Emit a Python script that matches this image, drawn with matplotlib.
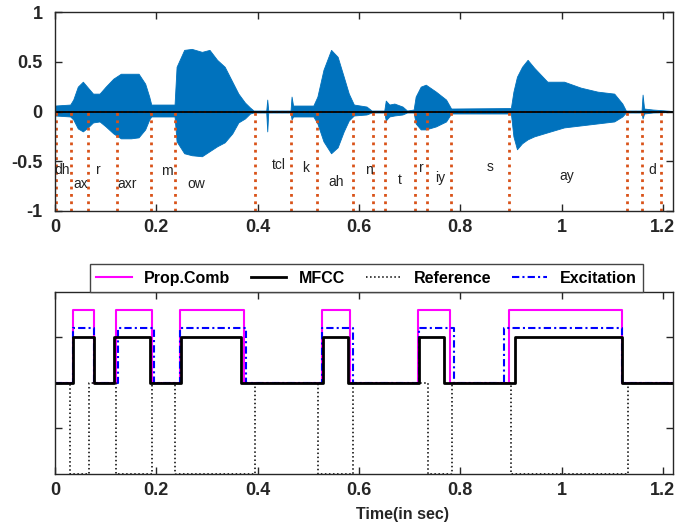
"""
Speech segment: waveform with phone boundaries + detected voiced regions
"""

import numpy as np
import matplotlib
matplotlib.use("Agg")
import matplotlib.pyplot as plt

plt.rcParams['font.family'] = ['Liberation Sans', 'DejaVu Sans']

# -----------------------------
# Waveform envelope
# -----------------------------
t_env = [0.000, 0.030, 0.036, 0.045, 0.055, 0.065, 0.075, 0.088, 0.100, 0.115,
         0.130, 0.150, 0.165, 0.178, 0.186, 0.190, 0.236, 0.240, 0.255, 0.270,
         0.290, 0.305, 0.320, 0.335, 0.350, 0.362, 0.375, 0.385, 0.392, 0.417,
         0.419, 0.421, 0.465, 0.467, 0.470, 0.510, 0.518, 0.530, 0.545, 0.558,
         0.570, 0.580, 0.590, 0.615, 0.625, 0.650, 0.653, 0.660, 0.670, 0.686,
         0.695, 0.708, 0.712, 0.722, 0.732, 0.752, 0.772, 0.782, 0.900, 0.905,
         0.912, 0.922, 0.933, 0.946, 0.972, 1.005, 1.038, 1.071, 1.104, 1.120,
         1.127, 1.158, 1.160, 1.163, 1.180, 1.220]
env_up = [0.06, 0.07, 0.12, 0.25, 0.30, 0.24, 0.18, 0.18, 0.25, 0.33,
          0.38, 0.38, 0.38, 0.28, 0.15, 0.07, 0.07, 0.45, 0.62, 0.63,
          0.60, 0.62, 0.52, 0.45, 0.30, 0.18, 0.09, 0.04, 0.01, 0.01,
          0.12, 0.01, 0.01, 0.15, 0.06, 0.06, 0.15, 0.42, 0.62, 0.55,
          0.35, 0.18, 0.07, 0.05, 0.01, 0.01, 0.11, 0.07, 0.08, 0.05,
          0.01, 0.02, 0.15, 0.25, 0.27, 0.20, 0.12, 0.03, 0.035, 0.20,
          0.35, 0.45, 0.52, 0.44, 0.30, 0.30, 0.24, 0.20, 0.18, 0.08,
          0.01, 0.01, 0.17, 0.03, 0.02, 0.005]
env_lo = [-0.04, -0.05, -0.08, -0.17, -0.20, -0.16, -0.11, -0.10, -0.15, -0.22,
          -0.27, -0.27, -0.26, -0.18, -0.08, -0.05, -0.05, -0.30, -0.42, -0.44,
          -0.45, -0.40, -0.35, -0.31, -0.22, -0.11, -0.07, -0.02, -0.01, -0.01,
          -0.20, -0.01, -0.01, -0.08, -0.05, -0.05, -0.12, -0.30, -0.42, -0.36,
          -0.20, -0.09, -0.04, -0.03, -0.01, -0.01, -0.09, -0.05, -0.04, -0.03,
          -0.01, -0.01, -0.12, -0.18, -0.18, -0.15, -0.10, -0.02, -0.02, -0.25,
          -0.38, -0.32, -0.28, -0.25, -0.21, -0.16, -0.14, -0.12, -0.10, -0.05,
          -0.01, -0.01, -0.07, -0.02, -0.01, -0.005]

# phone boundaries and labels
bounds = [0.002, 0.031, 0.066, 0.1216, 0.189, 0.2365, 0.394, 0.465, 0.5176,
          0.588, 0.6286, 0.6516, 0.7113, 0.7343, 0.7816, 0.8966, 1.1285,
          1.158, 1.1954]
phones = ['dh', 'ax', 'r', 'axr', 'm', 'ow', 'tcl', 'k', 'ah', 'n', 't', 'r',
          'iy', 's', 'ay', 'd']
phone_x = [0.015, 0.051, 0.085, 0.143, 0.22, 0.279, 0.442, 0.494, 0.555,
           0.619, 0.68, 0.7225, 0.76, 0.858, 1.01, 1.18]
phone_y = [-0.59, -0.73, -0.59, -0.73, -0.60, -0.73, -0.54, -0.57, -0.71,
           -0.585, -0.69, -0.57, -0.67, -0.56, -0.65, -0.585]

# -----------------------------
# Detected regions (start, end)
# -----------------------------
prop_comb = [(0.0348, 0.0775), (0.1195, 0.1918), (0.2463, 0.373),
             (0.527, 0.583), (0.7166, 0.779), (0.897, 1.12)]
mfcc = [(0.036, 0.0775), (0.1163, 0.187), (0.248, 0.367),
        (0.529, 0.578), (0.719, 0.768), (0.908, 1.1186)]
reference = [(0.0296, 0.0663), (0.1209, 0.1905), (0.2365, 0.395),
             (0.519, 0.588), (0.737, 0.784), (0.900, 1.132)]
excitation = [(0.036, 0.0766), (0.1248, 0.1957), (0.2463, 0.3777),
              (0.527, 0.588), (0.718, 0.787), (0.887, 1.12)]

levels = {'Prop.Comb': 1.6, 'MFCC': 1.0, 'Reference': -2.0, 'Excitation': 1.2}
XMAX = 1.22


def step(intervals, level):
    xs, ys = [0.0], [0.0]
    for s, e in intervals:
        xs += [s, s, e, e]
        ys += [0, level, level, 0]
    xs.append(XMAX)
    ys.append(0)
    return xs, ys


fig = plt.figure(figsize=(6.75, 5.26), dpi=100)
ax1 = fig.add_axes([0.0815, 0.599, 0.9155, 0.378])
ax2 = fig.add_axes([0.0815, 0.099, 0.9155, 0.346])

# -----------------------------
# Top: waveform
# -----------------------------
ax1.fill_between(t_env, env_lo, env_up, color='#0072BD', lw=0.6)
ax1.axhline(0, color='#D95319', ls=':', lw=1.5)
ax1.vlines(bounds, -1, 0, colors='#D95319', linestyles=':', lw=2)
ax1.axhline(0, color='black', lw=1.3)
for name, px, py in zip(phones, phone_x, phone_y):
    ax1.text(px, py, name, ha='center', va='center', fontsize=10, color='#222222')
ax1.set_xlim(0, XMAX)
ax1.set_ylim(-1, 1)
ax1.set_yticks([-1, -0.5, 0, 0.5, 1])
ax1.set_yticklabels(['-1', '-0.5', '0', '0.5', '1'])
ax1.set_xticks([0, 0.2, 0.4, 0.6, 0.8, 1, 1.2])
ax1.set_xticklabels(['0', '0.2', '0.4', '0.6', '0.8', '1', '1.2'])

# -----------------------------
# Bottom: region detections
# -----------------------------
x, y = step(prop_comb, levels['Prop.Comb'])
h1, = ax2.plot(x, y, color='#FF00FF', lw=1.5, label='Prop.Comb')
x, y = step(excitation, levels['Excitation'])
h4, = ax2.plot(x, y, color='#0000FF', ls='-.', dashes=(3.5, 1.5, 1, 1.5),
               lw=1.5, label='Excitation')
x, y = step(reference, levels['Reference'])
h3, = ax2.plot(x, y, color='black', ls=':', lw=1.1, label='Reference')
x, y = step(mfcc, levels['MFCC'])
h2, = ax2.plot(x, y, color='black', lw=2, label='MFCC')
ax2.set_xlim(0, XMAX)
ax2.set_ylim(-2, 2)
ax2.set_yticks([-1, 0, 1])
ax2.set_yticklabels([])
ax2.set_xticks([0, 0.2, 0.4, 0.6, 0.8, 1, 1.2])
ax2.set_xticklabels(['0', '0.2', '0.4', '0.6', '0.8', '1', '1.2'])
ax2.set_xlabel('Time(in sec)', fontsize=11.5, fontweight='bold', color='#262626')
ax2.xaxis.set_label_coords(0.563, -0.18)

leg = ax2.legend([h1, h2, h3, h4], ['Prop.Comb', 'MFCC', 'Reference', 'Excitation'],
                 loc='lower left', bbox_to_anchor=(0.0566, 1.0, 0.895, 0.165),
                 mode='expand', ncol=4, fancybox=False, framealpha=1,
                 handlelength=2.2, borderaxespad=0, columnspacing=1.0,
                 prop={'weight': 'bold', 'size': 11.5})
leg.get_frame().set_edgecolor('#444444')
leg.get_frame().set_linewidth(1.0)

for ax in (ax1, ax2):
    ax.tick_params(direction='in', top=True, right=True, length=5,
                   labelsize=13, colors='#262626', width=1)
    ax.tick_params(axis='x', pad=6)
    ax.tick_params(axis='y', pad=9)
    for lbl in ax.get_xticklabels() + ax.get_yticklabels():
        lbl.set_fontweight('bold')
    for s in ax.spines.values():
        s.set_color('#262626')
        s.set_linewidth(1)

fig.savefig('out.png', dpi=100)
